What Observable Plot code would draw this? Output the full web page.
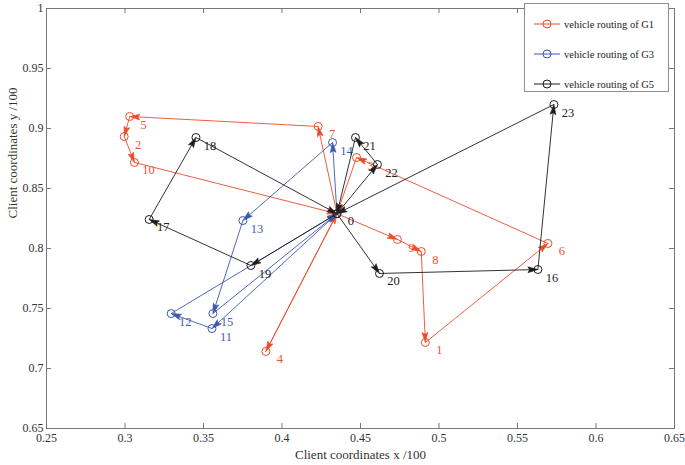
<!DOCTYPE html>
<html><head><meta charset="utf-8">
<script src="https://cdn.jsdelivr.net/npm/d3@7"></script>
<script src="https://cdn.jsdelivr.net/npm/@observablehq/plot@0.6"></script>
<style>
body{margin:0;background:#fff;}
#wrap{position:relative;width:685px;height:465px;font-family:"Liberation Serif","Times New Roman",serif;}
#legend{position:absolute;left:524px;top:3px;width:143px;height:87px;border:1px solid #8c8c8c;background:#fff;font-size:10.5px;color:#222;}
.row{position:absolute;left:8px;height:14px;display:flex;align-items:center;white-space:nowrap;}
.row svg{margin-right:3px;}
</style></head><body><div id="wrap"></div>
<script>
// ---- data ----
const depotX = [0.435];
const depotY = [0.829];

const g1Ids = [7, 5, 2, 10, 3, 9, 8, 1, 6, 4];
const g1X = [0.423, 0.303, 0.2995, 0.306, 0.4475, 0.4735, 0.4887, 0.4913, 0.5694, 0.3897];
const g1Y = [0.9017, 0.910, 0.8933, 0.8717, 0.8758, 0.8075, 0.7975, 0.7217, 0.8042, 0.7142];
const g1Route = [0, 7, 5, 2, 10, 0, 9, 8, 1, 6, 3, 0, 4, 0];

const g3Ids = [14, 13, 15, 12, 11];
const g3X = [0.4322, 0.3751, 0.356, 0.3294, 0.3554];
const g3Y = [0.8883, 0.8233, 0.7458, 0.7458, 0.7333];
const g3Route = [0, 14, 13, 15, 0, 11, 12, 0];

const g5Ids = [21, 22, 23, 16, 20, 19, 17, 18];
const g5X = [0.4468, 0.4608, 0.5732, 0.563, 0.4621, 0.3802, 0.3154, 0.3452];
const g5Y = [0.8925, 0.870, 0.920, 0.7825, 0.7792, 0.7858, 0.8242, 0.8925];
const g5Route = [0, 22, 21, 0, 20, 16, 23, 0, 19, 17, 18, 0];

const groupNames = ["vehicle routing of G1", "vehicle routing of G3", "vehicle routing of G5"];
const groupColors = ["#ee4b2b", "#3b58b2", "#1c1c1c"];
const labelColors = ["#e9553a", "#3f5db0", "#222222"];

const xTicks = [0.25, 0.3, 0.35, 0.4, 0.45, 0.5, 0.55, 0.6, 0.65];
const yTicks = [0.65, 0.7, 0.75, 0.8, 0.85, 0.9, 0.95, 1];
const xLabel = "Client coordinates x /100";
const yLabel = "Client coordinates y /100";

// ---- build tables ----
function pointsOf(ids, xs, ys) {
  return ids.map((id, i) => ({id, x: xs[i], y: ys[i]}));
}
function segmentsOf(ids, xs, ys, route) {
  const pos = new Map(ids.map((id, i) => [id, [xs[i], ys[i]]]));
  pos.set(0, [depotX[0], depotY[0]]);
  const segs = [];
  for (let i = 0; i < route.length - 1; i++) {
    const a = pos.get(route[i]), b = pos.get(route[i + 1]);
    segs.push({x1: a[0], y1: a[1], x2: b[0], y2: b[1]});
  }
  return segs;
}
const groups = [
  {pts: pointsOf(g1Ids, g1X, g1Y), segs: segmentsOf(g1Ids, g1X, g1Y, g1Route)},
  {pts: pointsOf(g3Ids, g3X, g3Y), segs: segmentsOf(g3Ids, g3X, g3Y, g3Route)},
  {pts: pointsOf(g5Ids, g5X, g5Y), segs: segmentsOf(g5Ids, g5X, g5Y, g5Route)}
];
const depotPts = [{id: 0, x: depotX[0], y: depotY[0]}];

function headMarker(fill) {
  return function (color, context) {
    const doc = (context && context.document) || document;
    const ns = "http://www.w3.org/2000/svg";
    const m = doc.createElementNS(ns, "marker");
    m.setAttribute("viewBox", "-20 -10 40 20");
    m.setAttribute("markerWidth", "40");
    m.setAttribute("markerHeight", "20");
    m.setAttribute("markerUnits", "userSpaceOnUse");
    m.setAttribute("orient", "auto");
    m.setAttribute("refX", "4.5");
    m.setAttribute("refY", "0");
    m.setAttribute("overflow", "visible");
    const p = doc.createElementNS(ns, "path");
    p.setAttribute("d", "M-5.5,-2.9L4.5,0L-5.5,2.9L-3.8,0Z");
    p.setAttribute("fill", fill);
    p.setAttribute("stroke", fill);
    p.setAttribute("stroke-width", "0.6");
    p.setAttribute("stroke-opacity", "1");
    m.appendChild(p);
    return m;
  };
}

const W = 685, H = 465, mL = 46, mR = 11, mT = 8, mB = 37;
const fW = W - mL - mR, fH = H - mT - mB;
const FONT = "Liberation Serif, Times New Roman, serif";
const axisColor = "#777777";

const marks = [
  Plot.frame({stroke: axisColor, strokeWidth: 1}),
  Plot.tickX(xTicks, {x: d => d, insetTop: fH - 5, stroke: axisColor}),
  Plot.tickX(xTicks, {x: d => d, insetBottom: fH - 5, stroke: axisColor}),
  Plot.tickY(yTicks, {y: d => d, insetRight: fW - 5, stroke: axisColor}),
  Plot.tickY(yTicks, {y: d => d, insetLeft: fW - 5, stroke: axisColor}),
  Plot.axisX(xTicks, {tickSize: 0, tickPadding: 5, tickFormat: d => String(d), fontSize: 12, fill: "#333", label: null}),
  Plot.axisY(yTicks, {tickSize: 0, tickPadding: 3, tickFormat: d => String(d), fontSize: 12, fill: "#333", label: null}),
  Plot.text([xLabel], {text: d => d, frameAnchor: "bottom", dy: 30, fontSize: 13, fill: "#333", fontFamily: FONT}),
  Plot.text([yLabel], {text: d => d, frameAnchor: "left", dx: -34, rotate: -90, fontSize: 13, fill: "#333", fontFamily: FONT})
];

groups.forEach((g, gi) => {
  const c = groupColors[gi];
  marks.push(
    Plot.arrow(g.segs, {x1: "x1", y1: "y1", x2: "x2", y2: "y2", stroke: c, strokeWidth: 0.9,
      headLength: 0, insetEnd: 4.5}),
    Plot.link(g.segs, {x1: "x1", y1: "y1", x2: "x2", y2: "y2", stroke: c, strokeOpacity: 0,
      markerEnd: headMarker(c)}),
    Plot.dot(g.pts, {x: "x", y: "y", r: 4, stroke: c, strokeWidth: 1, fill: "none"}),
    Plot.dot(depotPts, {x: "x", y: "y", r: 4, stroke: c, strokeWidth: 1, fill: "none"}),
    Plot.text(g.pts, {x: "x", y: "y", text: d => String(d.id), dx: 14, dy: 8, fill: labelColors[gi],
      fontSize: 12.5, fontFamily: FONT, textAnchor: "middle"})
  );
});
marks.push(Plot.text(depotPts, {x: "x", y: "y", text: d => String(d.id), dx: 14, dy: 7, fill: "#222",
  fontSize: 12.5, fontFamily: FONT, textAnchor: "middle"}));

const chart = Plot.plot({
  width: W, height: H,
  marginLeft: mL, marginRight: mR, marginTop: mT, marginBottom: mB,
  style: {fontFamily: FONT, fontSize: "12px", color: "#333", background: "#fff"},
  x: {domain: [0.25, 0.65], axis: null},
  y: {domain: [0.65, 1], axis: null},
  marks
});
const wrap = document.getElementById("wrap");
wrap.appendChild(chart);

// legend
const leg = document.createElement("div");
leg.id = "legend";
groupNames.forEach((name, i) => {
  const row = document.createElement("div");
  row.className = "row";
  row.style.top = (13 + 30 * i) + "px";
  row.innerHTML = `<svg width="28" height="12"><line x1="1" y1="6" x2="27" y2="6" stroke="${groupColors[i]}" stroke-width="1"/><circle cx="14" cy="6" r="4" fill="none" stroke="${groupColors[i]}" stroke-width="1"/></svg><span>${name}</span>`;
  leg.appendChild(row);
});
wrap.appendChild(leg);
</script>
</body></html>
